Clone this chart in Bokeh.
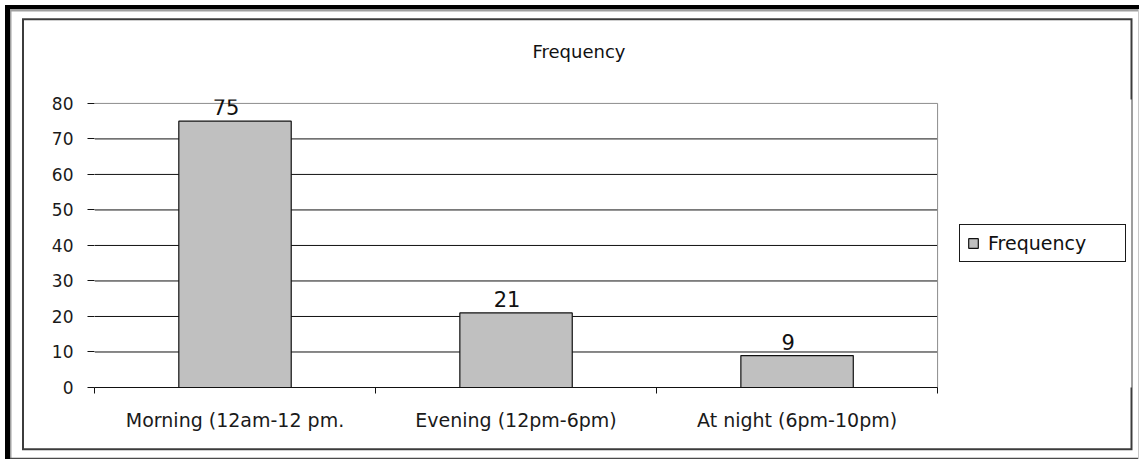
from bokeh.plotting import figure
from bokeh.models import Range1d, FixedTicker, ColumnDataSource
from bokeh.core.properties import value
from bokeh.embed import file_html
from bokeh.resources import INLINE

# Chart data
categories = ["Morning (12am-12 pm.", "Evening (12pm-6pm)", "At night (6pm-10pm)"]
frequency = [75, 21, 9]
y_ticks = [0, 10, 20, 30, 40, 50, 60, 70, 80]

positions = [i + 0.5 for i in range(len(categories))]
boundaries = list(range(len(categories) + 1))
n_cat = len(categories)
y_top = y_ticks[-1]

FONT = "DejaVu Sans"
FRAME_LEFT, FRAME_BOTTOM = 94, 387

# The frame runs on to the right so the legend can sit beside the bars;
# the category area itself spans x = 0 .. n_cat.
p = figure(
    width=1143, height=460,
    output_backend="svg", toolbar_location=None,
    x_range=Range1d(0, 3.69), y_range=Range1d(0, 81.1),
    min_border_left=FRAME_LEFT, min_border_right=12,
    min_border_top=97, min_border_bottom=460 - FRAME_BOTTOM,
    title="Frequency",
)
p.background_fill_color = "white"
p.border_fill_color = None
p.outline_line_color = None


def band(side, size, color):
    dx = {"left": size, "right": -size}.get(side, 0)
    dy = {"top": size, "bottom": -size}.get(side, 0)
    return f"inset {dx}px {dy}px 0 0 {color}"


# Page frame and chart-area border, layered from the top down
shadows = [
    band("left", 5, "#fff"), band("top", 5, "#fff"),
    band("right", 4, "#fff"), band("bottom", 1, "#fff"),
    band("left", 10, "#000"), band("top", 9, "#000"),
    band("right", 5, "#c8c8c8"), band("bottom", 2.2, "#4a4a4a"),
    band("left", 11.5, "#a0a0a0"), band("top", 11.5, "#a0a0a0"),
    band("left", 22, "#fff"), band("top", 18.3, "#fff"),
    band("right", 10.5, "#fff"), band("bottom", 9.8, "#fff"),
    band("left", 24, "#3c3c3c"), band("top", 20.3, "#3c3c3c"),
    band("right", 12.5, "#3c3c3c"), band("bottom", 11.8, "#3c3c3c"),
]
p.styles = {"box-shadow": ", ".join(shadows), "background-color": "white"}

# Title, centred over the whole chart area
p.title.align = "left"
p.title.offset = 438
p.title.standoff = 76
p.title.text_font = FONT
p.title.text_font_size = "18px"
p.title.text_font_style = "normal"
p.title.text_color = "#111111"

# Horizontal grid lines across the category area only (top one light grey)
inner = y_ticks[:-1]
p.segment(x0=[0] * len(inner), y0=inner, x1=[n_cat] * len(inner), y1=inner,
          line_color="#111111", line_width=1)
p.segment(x0=[0], y0=[y_top], x1=[n_cat], y1=[y_top],
          line_color="#8c8c8c", line_width=1)
# Plot-area border on the right
p.segment(x0=[n_cat], y0=[0], x1=[n_cat], y1=[y_top],
          line_color="#8c8c8c", line_width=1)

src = ColumnDataSource(dict(x=positions, top=frequency, label=[str(v) for v in frequency]))

p.vbar(x="x", top="top", bottom=0, width=0.4, source=src,
       fill_color="#c0c0c0", line_color="#111111", line_width=1.2,
       legend_label="Frequency")

p.text(x="x", y="top", text="label", source=src,
       text_align="center", text_baseline="bottom",
       x_offset=-9, y_offset=-6,
       text_font=value(FONT), text_font_size="21px", text_color="#111111")

p.xgrid[0].grid_line_color = None
p.ygrid[0].grid_line_color = None

# Y axis
yax = p.yaxis[0]
yax.ticker = FixedTicker(ticks=y_ticks)
yax.axis_line_color = None
yax.major_tick_line_color = "#111111"
yax.major_tick_out = 7
yax.major_tick_in = 0
yax.minor_tick_line_color = None
yax.major_label_standoff = 14
yax.major_label_text_font = FONT
yax.major_label_text_font_size = "17px"
yax.major_label_text_color = "#1a1a1a"

# X axis: labels at category centres, tick marks between categories
xax = p.xaxis[0]
xax.bounds = (0, n_cat)
xax.ticker = FixedTicker(ticks=positions, minor_ticks=boundaries)
xax.major_label_overrides = {pos: cat for pos, cat in zip(positions, categories)}
xax.axis_line_color = "#111111"
xax.axis_line_width = 1.2
xax.major_tick_line_color = None
xax.major_tick_out = 0
xax.major_tick_in = 0
xax.minor_tick_line_color = "#111111"
xax.minor_tick_out = 6
xax.minor_tick_in = 0
xax.major_label_standoff = 15
xax.major_label_text_font = FONT
xax.major_label_text_font_size = "19px"
xax.major_label_text_color = "#1a1a1a"

# Legend beside the plot area
legend = p.legend[0]
legend.location = (959 - FRAME_LEFT, FRAME_BOTTOM - 262)
legend.padding = 7
legend.glyph_width = 12
legend.glyph_height = 12
legend.label_standoff = 9
legend.label_width = 130
legend.label_height = 14
legend.label_text_font = FONT
legend.label_text_font_size = "19px"
legend.label_text_color = "#111111"
legend.border_line_color = "#1a1a1a"
legend.border_line_alpha = 1.0
legend.border_line_width = 1.5
legend.background_fill_color = "white"

open("out.html", "w").write(file_html(p, INLINE))
